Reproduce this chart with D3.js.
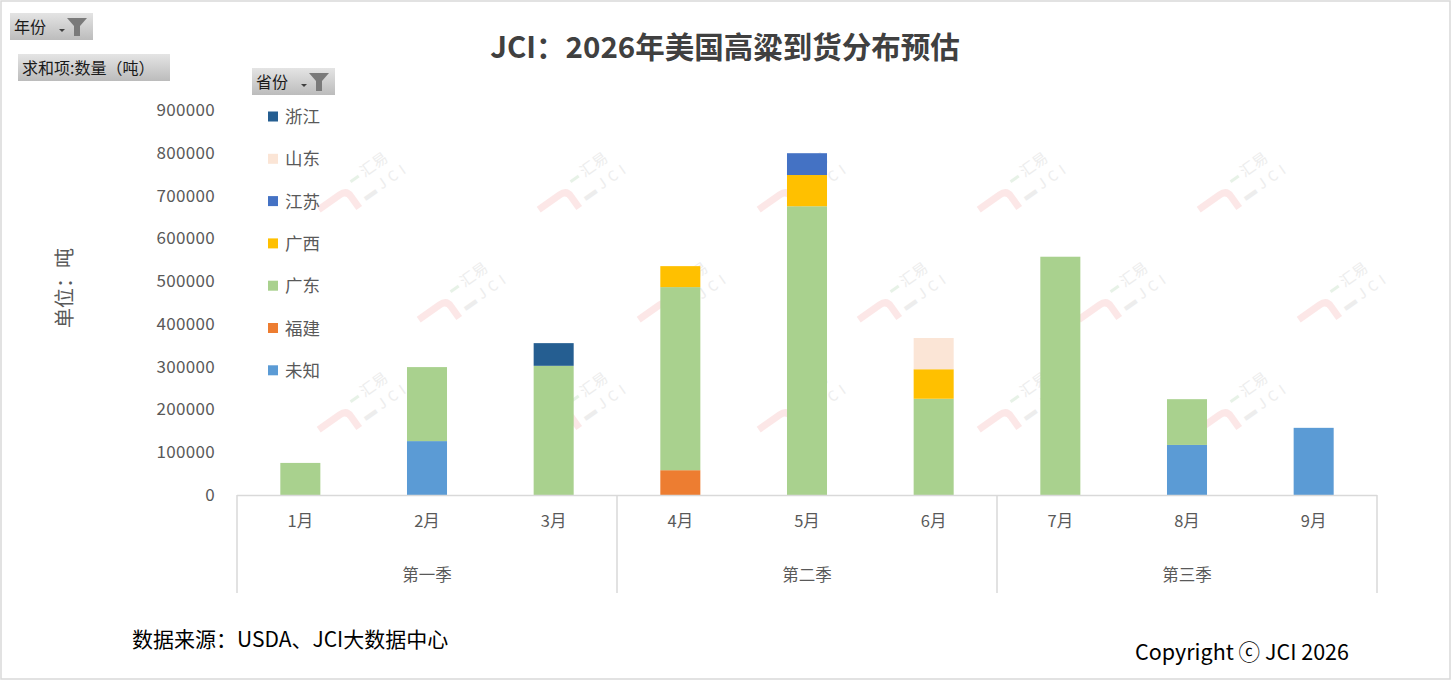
<!DOCTYPE html>
<html>
<head>
<meta charset="utf-8">
<script src="https://cdn.jsdelivr.net/npm/d3@7"></script>
<style>
  body { margin: 0; background: #fff; }
  text { font-family: "Noto Sans CJK SC", "Noto Sans", sans-serif; }
</style>
</head>
<body>
<script>
// Width and height
var w = 1451;
var h = 681;

// Data
var months = ["1月", "2月", "3月", "4月", "5月", "6月", "7月", "8月", "9月"];
var quarters = ["第一季", "第二季", "第三季"];
var provinces = ["未知", "福建", "广东", "广西", "江苏", "山东", "浙江"];   // bottom -> top
var colors = ["#5B9BD5", "#ED7D31", "#A9D18E", "#FFC000", "#4472C4", "#FBE5D6", "#255E91"];

var weizhi  = [0, 126000, 0, 0, 0, 0, 0, 117000, 157000];
var fujian  = [0, 0, 0, 58000, 0, 0, 0, 0, 0];
var guangdong = [75000, 173000, 302000, 428000, 675000, 225000, 557000, 107000, 0];
var guangxi = [0, 0, 0, 49000, 73000, 69000, 0, 0, 0];
var jiangsu = [0, 0, 0, 0, 51000, 0, 0, 0, 0];
var shandong = [0, 0, 0, 0, 0, 73000, 0, 0, 0];
var zhejiang = [0, 0, 53000, 0, 0, 0, 0, 0, 0];

var yTicks = [0, 100000, 200000, 300000, 400000, 500000, 600000, 700000, 800000, 900000];

var series = [weizhi, fujian, guangdong, guangxi, jiangsu, shandong, zhejiang];
var table = months.map(function (m, i) {
  var row = {month: m};
  provinces.forEach(function (p, k) { row[p] = series[k][i]; });
  return row;
});

var svg = d3.select("body").append("svg")
    .attr("width", w)
    .attr("height", h);

// frame
svg.append("rect")
    .attr("x", 1).attr("y", 1)
    .attr("width", w - 2).attr("height", h - 3)
    .attr("fill", "#fff")
    .attr("stroke", "#d9d9d9")
    .attr("stroke-width", 1.5);

// scales
var plotLeft = 237, plotRight = 1377, baseY = 495, topY = 110;

var x = d3.scaleBand()
    .domain(months)
    .range([plotLeft, plotRight])
    .paddingInner(0.684)
    .paddingOuter(0.342);

var y = d3.scaleLinear()
    .domain([0, 900000])
    .range([baseY, topY]);

// watermarks (faint repeated logo)
var wm = svg.append("g").attr("id", "watermarks");
[195, 305, 415].forEach(function (wy, r) {
  for (var c = 0; c < 5; c++) {
    var wx = 350 + c * 220 + (r % 2) * 100;
    var g = wm.append("g")
        .attr("transform", "translate(" + wx + "," + wy + ") rotate(-35)");
    g.append("path")
        .attr("d", "M-34,-6 L-8,-6 Q0,-6 0,2 L0,16")
        .attr("fill", "none")
        .attr("stroke", "#f8c4c4")
        .attr("stroke-width", 7)
        .attr("opacity", 0.4);
    g.append("rect")
        .attr("x", 8).attr("y", -12).attr("width", 10).attr("height", 3)
        .attr("fill", "#cfe6cf").attr("opacity", 0.5);
    g.append("text")
        .attr("x", 22).attr("y", -6)
        .attr("font-size", 15)
        .attr("fill", "#ededed")
        .text("汇易");
    g.append("text")
        .attr("x", 10).attr("y", 14)
        .attr("font-size", 14)
        .attr("letter-spacing", 5)
        .attr("fill", "#ededed")
        .text("▬JCI");
  }
});

// title
svg.append("text")
    .attr("x", 725)
    .attr("y", 58)
    .attr("text-anchor", "middle")
    .attr("font-size", 29.5)
    .attr("font-weight", "bold")
    .attr("fill", "#404040")
    .text("JCI：2026年美国高粱到货分布预估");

// bars
var stacked = d3.stack().keys(provinces)(table);

svg.append("g")
    .selectAll("g")
    .data(stacked)
    .enter().append("g")
      .attr("fill", function (d, i) { return colors[i]; })
    .selectAll("rect")
    .data(function (d) { return d; })
    .enter().append("rect")
      .attr("x", function (d) { return x(d.data.month); })
      .attr("y", function (d) { return y(d[1]); })
      .attr("width", x.bandwidth())
      .attr("height", function (d) { return y(d[0]) - y(d[1]); });

// y axis
var yAxis = svg.append("g")
    .attr("transform", "translate(" + plotLeft + ",0)")
    .call(d3.axisLeft(y).tickValues(yTicks).tickSize(0).tickPadding(22).tickFormat(d3.format("d")));
yAxis.select(".domain").remove();
yAxis.selectAll("text")
    .attr("font-size", 17)
    .attr("fill", "#595959")
    .attr("letter-spacing", 0.3)
    .style("font-family", "'Noto Sans CJK SC', sans-serif");

// x axis (months)
var xAxis = svg.append("g")
    .attr("transform", "translate(0," + baseY + ")")
    .call(d3.axisBottom(x).tickSize(0).tickPadding(20));
xAxis.select(".domain").remove();
xAxis.selectAll("text")
    .attr("font-size", 16.5)
    .attr("fill", "#595959")
    .style("font-family", "'Noto Sans CJK SC', sans-serif");

// axis lines
var axisColor = "#d9d9d9";
svg.append("line")
    .attr("x1", plotLeft).attr("x2", plotRight)
    .attr("y1", baseY + 0.5).attr("y2", baseY + 0.5)
    .attr("stroke", axisColor).attr("stroke-width", 1.5);

var qStep = (plotRight - plotLeft) / quarters.length;
d3.range(quarters.length + 1).forEach(function (k) {
  svg.append("line")
      .attr("x1", plotLeft + k * qStep).attr("x2", plotLeft + k * qStep)
      .attr("y1", baseY).attr("y2", 593)
      .attr("stroke", axisColor).attr("stroke-width", 1.5);
});

svg.append("g")
    .selectAll("text")
    .data(quarters)
    .enter().append("text")
      .attr("x", function (d, i) { return plotLeft + (i + 0.5) * qStep; })
      .attr("y", 581)
      .attr("text-anchor", "middle")
      .attr("font-size", 16.5)
      .attr("fill", "#595959")
      .text(function (d) { return d; });

// y axis title
svg.append("text")
    .attr("transform", "translate(72,288) rotate(-90)")
    .attr("text-anchor", "middle")
    .attr("font-size", 20)
    .attr("fill", "#595959")
    .text("单位：吨");

// legend (top item = last stacked series)
var legendItems = provinces.slice().reverse();
var legend = svg.append("g")
    .selectAll("g")
    .data(legendItems)
    .enter().append("g")
      .attr("transform", function (d, i) { return "translate(268," + (116.5 + i * 42.3) + ")"; });
legend.append("rect")
    .attr("x", 0).attr("y", -5)
    .attr("width", 10).attr("height", 10)
    .attr("fill", function (d) { return colors[provinces.indexOf(d)]; });
legend.append("text")
    .attr("x", 17).attr("y", 6.5)
    .attr("font-size", 17.5)
    .attr("fill", "#595959")
    .text(function (d) { return d; });

// pivot field buttons
var defs = svg.append("defs");
var grad = defs.append("linearGradient")
    .attr("id", "btnGrad")
    .attr("x1", 0).attr("y1", 0).attr("x2", 0).attr("y2", 1);
grad.append("stop").attr("offset", "0%").attr("stop-color", "#e4e4e4");
grad.append("stop").attr("offset", "100%").attr("stop-color", "#bcbcbc");

function button(bx, by, bw, label, filter) {
  var g = svg.append("g").attr("transform", "translate(" + bx + "," + by + ")");
  g.append("rect")
      .attr("width", bw).attr("height", 27)
      .attr("fill", "url(#btnGrad)");
  g.append("text")
      .attr("x", 4).attr("y", 19.5)
      .attr("font-size", 16)
      .attr("fill", "#1a1a1a")
      .text(label);
  if (filter) {
    g.append("path")
        .attr("d", "M" + (bw - 34) + ",16 l6,0 l-3,3 z")
        .attr("fill", "#404040");
    g.append("path")
        .attr("d", "M" + (bw - 26) + ",5 l20,0 l-7,8 l0,10 l-6,0 l0,-10 z")
        .attr("fill", "#7a7a7a");
  }
}
button(10, 13, 83, "年份", true);
button(18, 54, 152, "求和项:数量（吨）", false);
button(252, 68, 83, "省份", true);

// footer
svg.append("text")
    .attr("x", 132).attr("y", 647)
    .attr("font-size", 21)
    .attr("fill", "#000")
    .text("数据来源：USDA、JCI大数据中心");

svg.append("text")
    .attr("x", 1349).attr("y", 660)
    .attr("text-anchor", "end")
    .attr("font-size", 21.5)
    .attr("fill", "#000")
    .text("Copyright ⓒ JCI 2026");
</script>
</body>
</html>
